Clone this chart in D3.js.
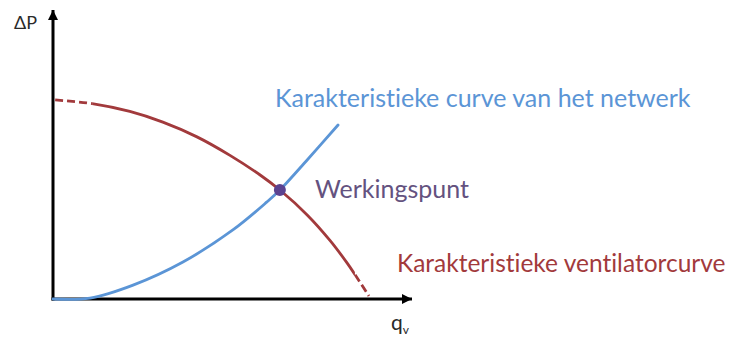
<!DOCTYPE html>
<html>
<head>
<meta charset="utf-8">
<script src="https://cdn.jsdelivr.net/npm/d3@7"></script>
<style>
  html, body { margin: 0; padding: 0; background: #fff; }
  svg { display: block; }
  text { font-family: Lato, "Open Sans", sans-serif; font-variant-ligatures: none; }
</style>
</head>
<body>
<svg id="chart" width="731" height="338"></svg>
<script>
// Fan characteristic (ΔP against flow qv), relative units
const fanQ  = [0.6, 10.9, 21.4, 30.6, 40.1, 49.3, 57.7, 63.2, 70.8, 77.2, 81.9, 84.1, 88.0];
const fanDP = [68.9, 67.6, 64.9, 61.2, 56.1, 49.7, 42.9, 37.7, 29.1, 20.2, 12.5, 8.5, 1.0];
// Part of the fan curve that is drawn solid (outside it is dashed)
const fanSolidQ = [10.9, 84.1];

// Network (system) characteristic
const netQ  = [0, 10.3, 22.3, 36.2, 50.1, 59.6, 63.2, 70.8, 79.4];
const netDP = [0, 0.3, 4.8, 12.8, 23.9, 33.6, 37.7, 48.1, 60.2];

// Operating point: intersection of both curves
const opQ = [63.2];
const opDP = [37.7];

const labels = {
  yAxis: "ΔP",
  xAxis: "q",
  xAxisSub: "v",
  network: "Karakteristieke curve van het netwerk",
  fan: "Karakteristieke ventilatorcurve",
  op: "Werkingspunt"
};

const colors = { fan: "#a23a3c", net: "#5b95d6", op: "#5b4290", opText: "#64527f", axis: "#000", axisText: "#2a2a2a" };

const svg = d3.select("#chart");
const x = d3.scaleLinear().domain([0, 100]).range([53, 412]);
const y = d3.scaleLinear().domain([0, 100]).range([299, 10]);

// Arrow head marker
const defs = svg.append("defs");
defs.append("marker")
  .attr("id", "arrow")
  .attr("viewBox", "0 0 10 10")
  .attr("refX", 10).attr("refY", 5)
  .attr("markerUnits", "userSpaceOnUse")
  .attr("markerWidth", 11).attr("markerHeight", 10)
  .attr("orient", "auto")
  .append("path").attr("d", "M0,0 L10,5 L0,10 Z").attr("fill", colors.axis);

defs.append("clipPath").attr("id", "solidClip")
  .append("rect")
  .attr("x", x(fanSolidQ[0])).attr("y", 0)
  .attr("width", x(fanSolidQ[1]) - x(fanSolidQ[0])).attr("height", 338);

const dashClip = defs.append("clipPath").attr("id", "dashClip");
dashClip.append("rect").attr("x", 0).attr("y", 0)
  .attr("width", x(fanSolidQ[0])).attr("height", 338);
dashClip.append("rect").attr("x", x(fanSolidQ[1])).attr("y", 0)
  .attr("width", 731 - x(fanSolidQ[1])).attr("height", 338);

const line = d3.line().x(d => x(d[0])).y(d => y(d[1])).curve(d3.curveCatmullRom.alpha(0.5));
const fanPts = fanQ.map((q, i) => [q, fanDP[i]]);
const netPts = netQ.map((q, i) => [q, netDP[i]]);

// Axes
svg.append("line")
  .attr("x1", x(0)).attr("y1", y(0) + 1.5)
  .attr("x2", x(0)).attr("y2", y(100))
  .attr("stroke", colors.axis).attr("stroke-width", 3)
  .attr("marker-end", "url(#arrow)");
svg.append("line")
  .attr("x1", x(0) - 1.5).attr("y1", y(0))
  .attr("x2", x(100)).attr("y2", y(0))
  .attr("stroke", colors.axis).attr("stroke-width", 3)
  .attr("marker-end", "url(#arrow)");

// Fan curve: solid middle, dashed ends
svg.append("path").datum(fanPts)
  .attr("d", line).attr("fill", "none")
  .attr("stroke", colors.fan).attr("stroke-width", 2.8)
  .attr("clip-path", "url(#solidClip)");
svg.append("path").datum(fanPts)
  .attr("d", line).attr("fill", "none")
  .attr("stroke", colors.fan).attr("stroke-width", 2.8)
  .attr("stroke-dasharray", "8,4")
  .attr("clip-path", "url(#dashClip)");

// Network curve
svg.append("path").datum(netPts)
  .attr("d", line).attr("fill", "none")
  .attr("stroke", colors.net).attr("stroke-width", 2.8)
  .attr("stroke-linecap", "round");

// Operating point
svg.append("circle")
  .attr("cx", x(opQ[0])).attr("cy", y(opDP[0])).attr("r", 6)
  .attr("fill", colors.op);

// Labels
svg.append("text").attr("x", 14).attr("y", 29)
  .attr("font-size", 18).attr("fill", colors.axisText).text(labels.yAxis);

const qt = svg.append("text").attr("x", 391).attr("y", 330)
  .attr("font-size", 21).attr("fill", colors.axisText);
qt.append("tspan").text(labels.xAxis);
qt.append("tspan").attr("font-size", 12).attr("dy", 4).text(labels.xAxisSub);

svg.append("text").attr("x", 275).attr("y", 107)
  .attr("font-size", 25).attr("fill", colors.net).text(labels.network);
svg.append("text").attr("x", 315).attr("y", 198)
  .attr("font-size", 25).attr("fill", colors.opText).text(labels.op);
svg.append("text").attr("x", 397).attr("y", 272)
  .attr("font-size", 24.5).attr("fill", colors.fan).text(labels.fan);
</script>
</body>
</html>
